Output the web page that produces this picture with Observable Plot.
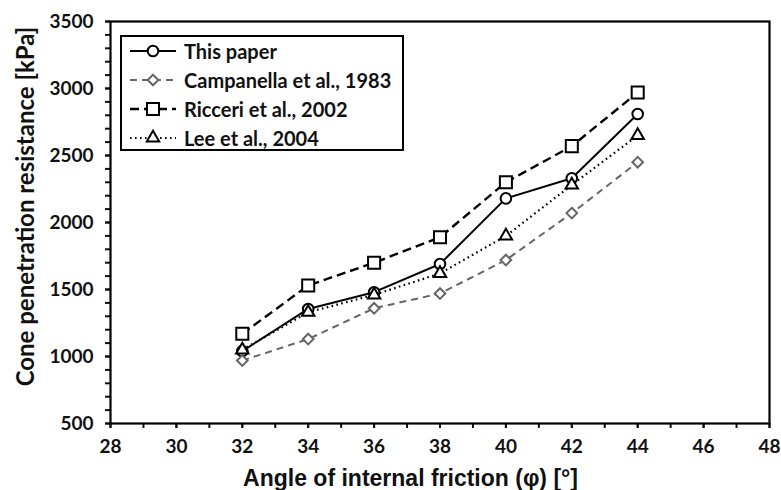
<!DOCTYPE html>
<html>
<head>
<meta charset="utf-8">
<script src="https://cdn.jsdelivr.net/npm/d3@7"></script>
<script src="https://cdn.jsdelivr.net/npm/@observablehq/plot@0.6"></script>
<style>
  html, body { margin: 0; padding: 0; background: #fff; }
  #wrap { position: relative; width: 781px; height: 490px; }
  #legend {
    position: absolute; left: 120px; top: 35px; width: 280px; height: 112px;
    border: 2px solid #000; background: #fff; box-sizing: content-box;
    font-family: Lato, "DejaVu Sans", sans-serif; font-weight: bold; font-size: 20px; color: #111;
  }
  .row { position: absolute; left: 6px; height: 26px; display: flex; align-items: center; white-space: nowrap; }
  .row svg { margin-right: 6px; }
</style>
</head>
<body>
<div id="wrap"><div id="chart"></div><div id="legend"></div></div>
<script>
const angles = [32, 34, 36, 38, 40, 42, 44];
const thisPaper  = [1040, 1355, 1480, 1690, 2180, 2330, 2810];
const campanella = [970, 1130, 1360, 1470, 1720, 2070, 2450];
const ricceri    = [1170, 1530, 1700, 1890, 2300, 2570, 2970];
const lee        = [1050, 1330, 1460, 1620, 1900, 2280, 2650];

const seriesNames = ["This paper", "Campanella et al., 1983", "Ricceri et al., 2002", "Lee et al., 2004"];
const seriesValues = [thisPaper, campanella, ricceri, lee];
const xTicks = [28, 30, 32, 34, 36, 38, 40, 42, 44, 46, 48];
const yTicks = [500, 1000, 1500, 2000, 2500, 3000, 3500];
const xLabel = "Angle of internal friction (φ) [°]";
const yLabel = "Cone penetration resistance [kPa]";

const styles = [
  {stroke: "#000", dash: null, width: 2, symbol: "circle", r: 5.3, mstroke: "#000"},
  {stroke: "#666", dash: "7,5", width: 2, symbol: "diamond2", r: 4.8, mstroke: "#666"},
  {stroke: "#000", dash: "9,5", width: 2.4, symbol: "square", r: 6.8, mstroke: "#000"},
  {stroke: "#000", dash: "1.6,3.4", width: 2.2, symbol: "triangle", r: 4.6, mstroke: "#000"}
];

const data = seriesNames.flatMap((name, i) =>
  angles.map((a, j) => ({series: name, idx: i, angle: a, value: seriesValues[i][j]})));

const lineMarks = seriesNames.map((name, i) =>
  Plot.line(data.filter(d => d.idx === i), {
    x: "angle", y: "value", stroke: styles[i].stroke, strokeWidth: styles[i].width,
    strokeDasharray: styles[i].dash, strokeLinecap: "butt"
  }));
const dotMarks = seriesNames.map((name, i) =>
  Plot.dot(data.filter(d => d.idx === i), {
    x: "angle", y: "value", symbol: () => styles[i].symbol, r: styles[i].r,
    fill: "white", stroke: styles[i].mstroke, strokeWidth: 2
  }));

const chart = Plot.plot({
  width: 781, height: 490,
  marginLeft: 110, marginRight: 12, marginTop: 21, marginBottom: 67,
  style: {fontFamily: "Lato, 'DejaVu Sans', sans-serif", fontSize: "19px", fontWeight: "bold", color: "#111", background: "white"},
  x: {domain: [28, 48]},
  y: {domain: [500, 3500]},
  symbol: {type: "identity"},
  marks: [
    Plot.axisX({ticks: d3.range(28, 49, 1), tickSize: 5, tickFormat: () => "", strokeWidth: 2, label: null}),
    Plot.axisX({ticks: xTicks, tickSize: 5, tickPadding: 11, strokeWidth: 2, label: null, tickFormat: d3.format("d"), fontSize: 19}),
    Plot.axisY({ticks: d3.range(500, 3501, 100), tickSize: 5, tickFormat: () => "", strokeWidth: 2, label: null}),
    Plot.axisY({ticks: yTicks, tickSize: 5, tickPadding: 12, strokeWidth: 2, label: null, tickFormat: d3.format("d"), fontSize: 19}),
    ...lineMarks,
    ...dotMarks,
    Plot.frame({stroke: "#000", strokeWidth: 2.2}),
    Plot.text([xLabel], {frameAnchor: "bottom-left", textAnchor: "middle", dx: 300, dy: 55, lineAnchor: "middle",
      fontSize: 23, fontWeight: "bold", fontFamily: "'Liberation Sans', Arial, sans-serif", fill: "#111"}),
    Plot.text([yLabel], {frameAnchor: "left", textAnchor: "middle", dx: -84, dy: -16, rotate: -90, lineAnchor: "middle",
      fontSize: 24, fontWeight: "bold", fill: "#111"})
  ]
});
document.getElementById("chart").appendChild(chart);

// legend
const legend = d3.select("#legend");
seriesNames.forEach((name, i) => {
  const s = styles[i];
  const row = legend.append("div").attr("class", "row").style("top", (i * 29 + 1) + "px");
  const svg = row.append("svg").attr("width", 50).attr("height", 26);
  svg.append("line").attr("x1", 2).attr("x2", 48).attr("y1", 13).attr("y2", 13)
    .attr("stroke", s.stroke).attr("stroke-width", s.width).attr("stroke-dasharray", s.dash);
  const symMap = {circle: d3.symbolCircle, diamond2: d3.symbolDiamond2, square: d3.symbolSquare, triangle: d3.symbolTriangle};
  svg.append("path").attr("transform", "translate(25,13)")
    .attr("d", d3.symbol(symMap[s.symbol], Math.PI * s.r * s.r)())
    .attr("fill", "white").attr("stroke", s.mstroke).attr("stroke-width", 2);
  row.append("span").text(name);
});
</script>
</body>
</html>
